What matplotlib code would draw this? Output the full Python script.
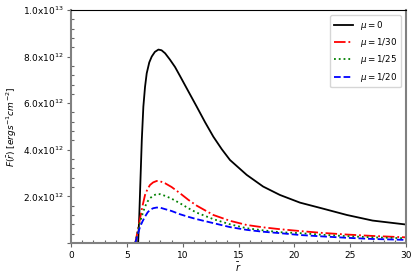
import numpy as np
import matplotlib
matplotlib.use('Agg')
import matplotlib.pyplot as plt
from matplotlib.ticker import MultipleLocator, FuncFormatter

# values (F in units of 1e12)
r_black = [6.0, 6.1, 6.18, 6.33, 6.47, 6.62, 6.77, 7.0, 7.22, 7.5, 7.82, 8.1, 8.42, 8.85,
           9.31, 9.76, 10.1, 10.6, 11.25, 12.0, 12.74, 13.5, 14.23, 15.73, 17.2, 18.7,
           20.5, 22.5, 24.7, 27.0, 30.0]
F_black = [0.0, 1.1, 2.27, 4.42, 5.85, 6.7, 7.28, 7.75, 8.0, 8.2, 8.3, 8.27, 8.14, 7.87,
           7.55, 7.16, 6.86, 6.42, 5.85, 5.18, 4.56, 4.02, 3.56, 2.92, 2.42, 2.06,
           1.73, 1.48, 1.2, 0.96, 0.79]

r_mu = [5.75, 5.95, 6.18, 6.4, 6.62, 6.85, 7.07, 7.35, 7.67, 8.0, 8.42, 9.0, 9.76, 10.5,
        11.25, 12.74, 14.23, 15.73, 17.2, 18.7, 20.5, 22.5, 24.7, 27.0, 30.0]
F_30 = [0.0, 0.5, 1.06, 1.6, 2.06, 2.32, 2.49, 2.6, 2.66, 2.64, 2.56, 2.4, 2.13, 1.85,
        1.6, 1.2, 0.95, 0.77, 0.67, 0.59, 0.51, 0.43, 0.36, 0.3, 0.24]
F_25 = [0.0, 0.45, 0.91, 1.25, 1.56, 1.78, 1.92, 2.03, 2.10, 2.09, 2.02, 1.9, 1.70, 1.49,
        1.3, 1.02, 0.8, 0.63, 0.54, 0.46, 0.42, 0.35, 0.29, 0.24, 0.2]
F_20 = [0.0, 0.35, 0.70, 0.93, 1.13, 1.31, 1.42, 1.49, 1.52, 1.51, 1.45, 1.37, 1.23, 1.12,
        1.02, 0.85, 0.68, 0.56, 0.48, 0.42, 0.34, 0.28, 0.22, 0.17, 0.13]

fig = plt.figure(figsize=(4.16, 2.77), dpi=100)
ax = fig.add_axes([0.171, 0.123, 0.805, 0.841])

ax.plot(r_black, np.array(F_black) * 1e12, color='black', lw=1.3, ls='-', label=r'$\mu=0$')
ax.plot(r_mu, np.array(F_30) * 1e12, color='red', lw=1.3, ls='-.', label=r'$\mu=1/30$')
ax.plot(r_mu, np.array(F_25) * 1e12, color='green', lw=1.3, ls=':', label=r'$\mu=1/25$')
ax.plot(r_mu, np.array(F_20) * 1e12, color='blue', lw=1.3, ls='--', label=r'$\mu=1/20$')

ax.set_xlim(0, 30)
ax.set_ylim(0, 1e13)
ax.xaxis.set_major_locator(MultipleLocator(5))
ax.xaxis.set_minor_locator(MultipleLocator(1))
ax.yaxis.set_major_locator(MultipleLocator(2e12))
ax.yaxis.set_minor_locator(MultipleLocator(4e11))


def fmt(v, pos):
    if v <= 0:
        return ''
    e = int(np.floor(np.log10(v) + 1e-9))
    return '%.1fx10$^{%d}$' % (v / 10 ** e, e)


ax.yaxis.set_major_formatter(FuncFormatter(fmt))
ax.tick_params(labelsize=6.5, length=3, width=0.8, color='0.4', pad=2.5)
ax.tick_params(which='minor', direction='in', length=2.5, width=0.8, color='0.4')

for s in ['left', 'bottom', 'right']:
    ax.spines[s].set_color('0.5')
    ax.spines[s].set_linewidth(1.5)
ax.spines['top'].set_color('black')
ax.spines['top'].set_linewidth(0.8)

ax.set_xlabel(r'$\bar{r}$', fontsize=7, labelpad=1)
ax.set_ylabel(r'$F(\bar{r})\ [ergs^{-1}cm^{-2}]$', fontsize=6.5, labelpad=3)
ax.legend(loc='upper right', fontsize=6.3, handlelength=2.2, borderaxespad=0.6)

fig.savefig('out.png', dpi=100)
